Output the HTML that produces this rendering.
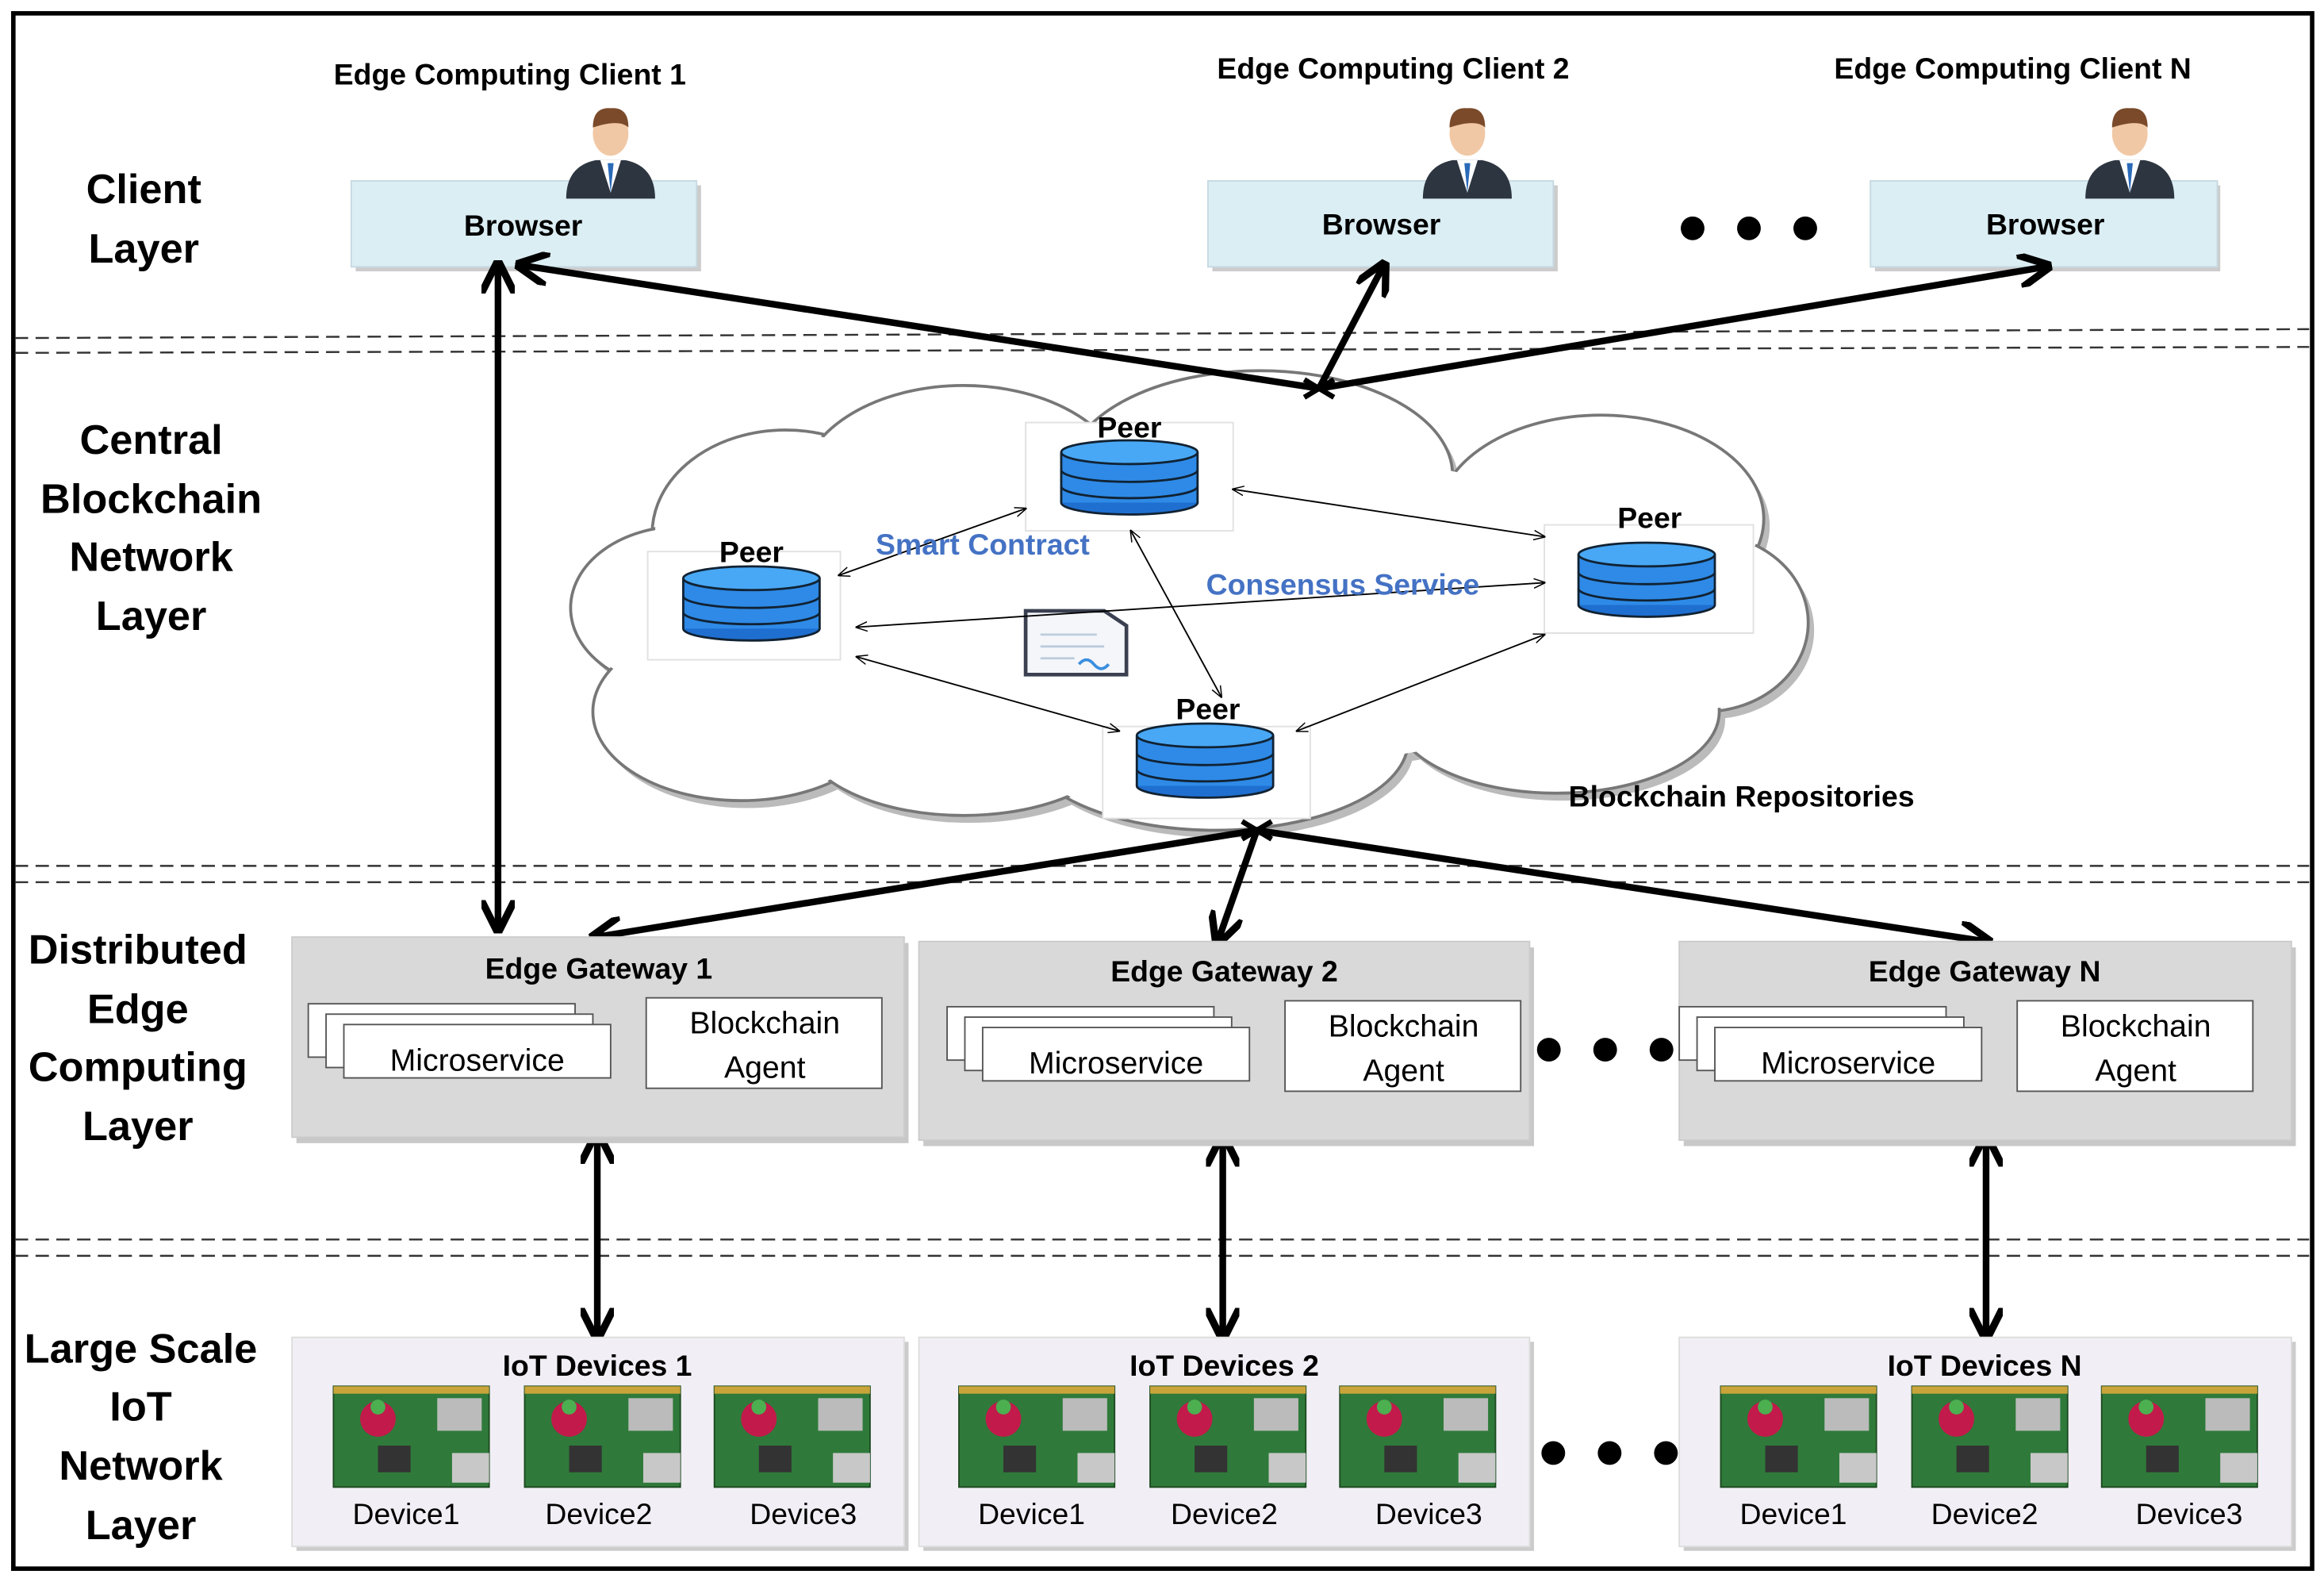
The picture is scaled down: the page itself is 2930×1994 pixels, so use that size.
<!DOCTYPE html>
<html><head><meta charset="utf-8"><style>
html,body{margin:0;padding:0;background:#fff}
svg{display:block}
text{font-family:"Liberation Sans",sans-serif}
.b{font-weight:bold}
</style></head><body>
<svg width="2930" height="1994" viewBox="0 0 1568 1067" preserveAspectRatio="none" xmlns="http://www.w3.org/2000/svg">
<defs>
<marker id="ah" viewBox="0 0 10 10" refX="8" refY="5" markerWidth="5" markerHeight="5" orient="auto-start-reverse"><path d="M0,0 L10,5 L0,10" fill="none" stroke="#000" stroke-width="2.2"/></marker>
<marker id="th" viewBox="0 0 10 10" refX="9" refY="5" markerWidth="8" markerHeight="8" orient="auto-start-reverse"><path d="M0,1 L10,5 L0,9" fill="none" stroke="#000" stroke-width="1"/></marker>
<g id="db">
<ellipse cx="0" cy="17" rx="46" ry="8" fill="#1f6fd0" stroke="#123" stroke-width="1.5"/>
<rect x="-46" y="-17" width="92" height="34" fill="#2e8ae6"/>
<path d="M-46,-17 V17 M46,-17 V17" stroke="#123" stroke-width="1.5"/>
<path d="M-46,-5 A46,8 0 0 0 46,-5 M-46,6 A46,8 0 0 0 46,6" fill="none" stroke="#123" stroke-width="1.5"/>
<ellipse cx="0" cy="-17" rx="46" ry="8" fill="#48a8f5" stroke="#123" stroke-width="1.5"/>
</g>
<g id="person">
<path d="M-30,34 Q-30,12 -10,8 L10,8 Q30,12 30,34 Z" fill="#2d3540"/>
<path d="M-7,8 L0,30 L7,8 Z" fill="#fff"/>
<path d="M-2,10 L0,30 L2,10 Z" fill="#2a6ab8"/>
<ellipse cx="0" cy="-10" rx="12" ry="15" fill="#f1c8a5"/>
<path d="M-12,-14 Q-12,-28 0,-27 Q12,-28 12,-14 Q6,-20 -12,-14 Z" fill="#7a4a2a"/>
</g>
<g id="pi">
<rect x="0" y="0" width="105" height="68" fill="#2f7a3a"/>
<rect x="0" y="0" width="105" height="68" fill="none" stroke="#1c4a20" stroke-width="1"/>
<rect x="80" y="45" width="25" height="20" fill="#c8c8c8"/>
<rect x="70" y="8" width="30" height="22" fill="#bbb"/>
<rect x="30" y="40" width="22" height="18" fill="#333"/>
<circle cx="30" cy="22" r="12" fill="#c21a4a"/>
<circle cx="30" cy="14" r="5" fill="#4caf50"/>
<rect x="0" y="0" width="105" height="5" fill="#c9a43a"/>
</g>
<g id="micro">
<rect x="0" y="0" width="180" height="36" fill="#fff" stroke="#555"/>
<rect x="12" y="7" width="180" height="36" fill="#fff" stroke="#555"/>
<rect x="24" y="14" width="180" height="36" fill="#fff" stroke="#555"/>
</g>
</defs>

<rect x="9" y="9" width="1551" height="1049" fill="none" stroke="#000" stroke-width="3"/>

<!-- dashed separators -->
<g stroke="#333" stroke-width="1.3" stroke-dasharray="9,5">
<line x1="10" y1="228" x2="1558" y2="222"/><line x1="10" y1="238" x2="1558" y2="234"/>
<line x1="10" y1="584" x2="1558" y2="584"/><line x1="10" y1="595" x2="1558" y2="595"/>
<line x1="10" y1="836" x2="1558" y2="836"/><line x1="10" y1="847" x2="1558" y2="847"/>
</g>

<!-- layer labels -->
<g class="b" font-size="28" text-anchor="middle" fill="#000">
<text x="97" y="137">Client</text><text x="97" y="177">Layer</text>
<text x="102" y="306">Central</text><text x="102" y="346">Blockchain</text><text x="102" y="385">Network</text><text x="102" y="425">Layer</text>
<text x="93" y="650">Distributed</text><text x="93" y="690">Edge</text><text x="93" y="729">Computing</text><text x="93" y="769">Layer</text>
<text x="95" y="919">Large Scale</text><text x="95" y="958">IoT</text><text x="95" y="998">Network</text><text x="95" y="1038">Layer</text>
</g>

<!-- clients -->
<g class="b" font-size="20" text-anchor="middle">
<text x="344" y="57">Edge Computing Client 1</text>
<text x="940" y="53">Edge Computing Client 2</text>
<text x="1358" y="53">Edge Computing Client N</text>
</g>
<g fill="#dbeef4" stroke="#c6d9e0">
<rect x="240" y="125" width="233" height="58" fill="#ccc" stroke="none"/>
<rect x="237" y="122" width="233" height="58"/>
<rect x="818" y="125" width="233" height="58" fill="#ccc" stroke="none"/>
<rect x="815" y="122" width="233" height="58"/>
<rect x="1265" y="125" width="233" height="58" fill="#ccc" stroke="none"/>
<rect x="1262" y="122" width="234" height="58"/>
</g>
<use href="#person" x="412" y="100"/><use href="#person" x="990" y="100"/><use href="#person" x="1437" y="100"/>
<g class="b" font-size="20" text-anchor="middle">
<text x="353" y="159">Browser</text><text x="932" y="158">Browser</text><text x="1380" y="158">Browser</text>
</g>
<g fill="#000"><circle cx="1142" cy="154" r="8"/><circle cx="1180" cy="154" r="8"/><circle cx="1218" cy="154" r="8"/></g>

<!-- cloud -->
<g fill="#bbb" transform="translate(4,5)">
<ellipse cx="530" cy="360" rx="90" ry="70"/><ellipse cx="460" cy="410" rx="75" ry="55"/><ellipse cx="500" cy="480" rx="100" ry="60"/>
<ellipse cx="650" cy="330" rx="110" ry="70"/><ellipse cx="850" cy="320" rx="130" ry="70"/><ellipse cx="1080" cy="350" rx="110" ry="70"/>
<ellipse cx="1150" cy="420" rx="70" ry="60"/><ellipse cx="1050" cy="480" rx="110" ry="55"/><ellipse cx="820" cy="500" rx="130" ry="60"/><ellipse cx="650" cy="495" rx="110" ry="55"/><ellipse cx="800" cy="410" rx="330" ry="110"/>
</g>
<g fill="#fff" stroke="#777" stroke-width="2">
<ellipse cx="530" cy="360" rx="90" ry="70"/><ellipse cx="460" cy="410" rx="75" ry="55"/><ellipse cx="500" cy="480" rx="100" ry="60"/>
<ellipse cx="650" cy="330" rx="110" ry="70"/><ellipse cx="850" cy="320" rx="130" ry="70"/><ellipse cx="1080" cy="350" rx="110" ry="70"/>
<ellipse cx="1150" cy="420" rx="70" ry="60"/><ellipse cx="1050" cy="480" rx="110" ry="55"/><ellipse cx="820" cy="500" rx="130" ry="60"/><ellipse cx="650" cy="495" rx="110" ry="55"/>
</g>
<g fill="#fff">
<ellipse cx="530" cy="360" rx="88" ry="68"/><ellipse cx="460" cy="410" rx="73" ry="53"/><ellipse cx="500" cy="480" rx="98" ry="58"/>
<ellipse cx="650" cy="330" rx="108" ry="68"/><ellipse cx="850" cy="320" rx="128" ry="68"/><ellipse cx="1080" cy="350" rx="108" ry="68"/>
<ellipse cx="1150" cy="420" rx="68" ry="58"/><ellipse cx="1050" cy="480" rx="108" ry="53"/><ellipse cx="820" cy="500" rx="128" ry="58"/><ellipse cx="650" cy="495" rx="108" ry="53"/>
<ellipse cx="800" cy="410" rx="330" ry="110"/>
</g>

<!-- peers -->
<g fill="#fff" stroke="#e0e0e0">
<rect x="692" y="285" width="140" height="73"/><rect x="437" y="372" width="130" height="73"/>
<rect x="1042" y="354" width="141" height="73"/><rect x="744" y="490" width="140" height="62"/>
</g>
<g class="b" font-size="20" text-anchor="middle">
<text x="762" y="295">Peer</text><text x="507" y="379">Peer</text><text x="1113" y="356">Peer</text><text x="815" y="485">Peer</text>
</g>
<use href="#db" x="762" y="322"/><use href="#db" x="507" y="407"/><use href="#db" x="1111" y="391"/><use href="#db" x="813" y="513"/>

<!-- doc icon -->
<path d="M692,412 H745 L760,422 V455 H692 Z" fill="#f4f6f9" stroke="#3a4050" stroke-width="2.5"/>
<path d="M702,428 H740 M702,436 H745 M702,444 H725" stroke="#bcd" stroke-width="1.5"/>
<path d="M728,448 q5,-6 10,0 q5,6 10,0" fill="none" stroke="#3b8ee0" stroke-width="2"/>

<!-- thin arrows -->
<g stroke="#000" stroke-width="1" marker-start="url(#th)" marker-end="url(#th)">
<line x1="832" y1="330" x2="1042" y2="362"/>
<line x1="566" y1="388" x2="692" y2="343"/>
<line x1="578" y1="423" x2="1042" y2="393"/>
<line x1="578" y1="443" x2="755" y2="493"/>
<line x1="763" y1="358" x2="824" y2="470"/>
<line x1="875" y1="493" x2="1042" y2="428"/>
</g>
<g class="b" font-size="20" fill="#4472c4" text-anchor="middle">
<text x="663" y="374">Smart Contract</text><text x="906" y="401">Consensus Service</text>
</g>
<text class="b" x="1175" y="544" font-size="20" text-anchor="middle">Blockchain Repositories</text>

<!-- thick arrows -->
<g stroke="#000" stroke-width="4.5" fill="none" marker-end="url(#ah)">
<line x1="890" y1="262" x2="352" y2="179"/>
<line x1="890" y1="262" x2="933" y2="180"/>
<line x1="890" y1="262" x2="1380" y2="180"/>
<line x1="848" y1="560" x2="402" y2="632"/>
<line x1="848" y1="560" x2="822" y2="634"/>
<line x1="848" y1="560" x2="1340" y2="635"/>
</g>
<g stroke="#000" stroke-width="4.5" marker-start="url(#ah)" marker-end="url(#ah)">
<line x1="336" y1="180" x2="336" y2="625"/>
<line x1="403" y1="767" x2="403" y2="900"/>
<line x1="825" y1="769" x2="825" y2="900"/>
<line x1="1340" y1="769" x2="1340" y2="900"/>
</g>
<path d="M880,256 L900,268 M880,268 L900,256 M838,554 L858,566 M838,566 L858,554" stroke="#000" stroke-width="3.5"/>

<!-- gateways -->
<g fill="#c8c8c8"><rect x="200" y="636" width="413" height="135"/><rect x="623" y="639" width="412" height="134"/><rect x="1136" y="639" width="413" height="134"/></g>
<g fill="#d9d9d9" stroke="#ccc"><rect x="197" y="632" width="413" height="135"/><rect x="620" y="635" width="412" height="134"/><rect x="1133" y="635" width="413" height="134"/></g>
<g class="b" font-size="20" text-anchor="middle">
<text x="404" y="660">Edge Gateway 1</text><text x="826" y="662">Edge Gateway  2</text><text x="1339" y="662">Edge Gateway  N</text>
</g>
<use href="#micro" x="208" y="677"/><use href="#micro" x="639" y="679"/><use href="#micro" x="1133" y="679"/>
<g fill="#fff" stroke="#555"><rect x="436" y="673" width="159" height="61"/><rect x="867" y="675" width="159" height="61"/><rect x="1361" y="675" width="159" height="61"/></g>
<g font-size="21" text-anchor="middle">
<text x="322" y="722">Microservice</text><text x="753" y="724">Microservice</text><text x="1247" y="724">Microservice</text>
<text x="516" y="697">Blockchain</text><text x="516" y="727">Agent</text>
<text x="947" y="699">Blockchain</text><text x="947" y="729">Agent</text>
<text x="1441" y="699">Blockchain</text><text x="1441" y="729">Agent</text>
</g>
<g fill="#000"><circle cx="1045" cy="708" r="8"/><circle cx="1083" cy="708" r="8"/><circle cx="1121" cy="708" r="8"/></g>

<!-- IoT -->
<g fill="#ccc"><rect x="200" y="905" width="413" height="141"/><rect x="623" y="905" width="412" height="141"/><rect x="1136" y="905" width="413" height="141"/></g>
<g fill="#f1eff5" stroke="#ddd"><rect x="197" y="902" width="413" height="141"/><rect x="620" y="902" width="412" height="141"/><rect x="1133" y="902" width="413" height="141"/></g>
<g class="b" font-size="20" text-anchor="middle">
<text x="403" y="928">IoT Devices 1</text><text x="826" y="928">IoT Devices 2</text><text x="1339" y="928">IoT Devices N</text>
</g>
<use href="#pi" x="225" y="935"/><use href="#pi" x="354" y="935"/><use href="#pi" x="482" y="935"/>
<use href="#pi" x="647" y="935"/><use href="#pi" x="776" y="935"/><use href="#pi" x="904" y="935"/>
<use href="#pi" x="1161" y="935"/><use href="#pi" x="1290" y="935"/><use href="#pi" x="1418" y="935"/>
<g font-size="20" text-anchor="middle">
<text x="274" y="1028">Device1</text><text x="404" y="1028">Device2</text><text x="542" y="1028">Device3</text>
<text x="696" y="1028">Device1</text><text x="826" y="1028">Device2</text><text x="964" y="1028">Device3</text>
<text x="1210" y="1028">Device1</text><text x="1339" y="1028">Device2</text><text x="1477" y="1028">Device3</text>
</g>
<g fill="#000"><circle cx="1048" cy="980" r="8"/><circle cx="1086" cy="980" r="8"/><circle cx="1124" cy="980" r="8"/></g>
</svg>
</body></html>
